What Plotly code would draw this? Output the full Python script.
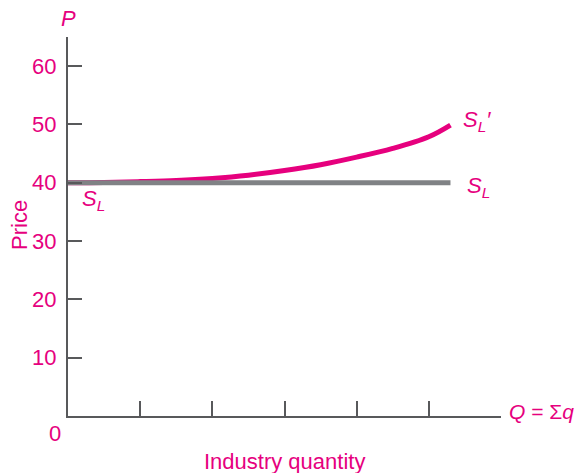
import plotly.graph_objects as go

# Data
q_long = [0, 0.5, 1, 1.5, 2, 2.5, 3, 3.5, 4, 4.5, 5, 5.3]
p_long_prime = [40, 40.05, 40.2, 40.4, 40.75, 41.3, 42.1, 43.1, 44.4, 45.9, 47.9, 49.9]
q_flat = [0, 5.3]
p_flat = [40, 40]
y_ticks = [10, 20, 30, 40, 50, 60]
x_ticks = [1, 2, 3, 4, 5]

MAG = "#E6007E"
GREY = "#808285"
AX = "#58595B"
FONT = "Liberation Sans, Arial, sans-serif"
FS = 22

fig = go.Figure()
fig.add_trace(go.Scatter(x=q_long, y=p_long_prime, mode="lines",
                         line=dict(color=MAG, width=5, shape="spline", smoothing=1),
                         hoverinfo="skip", showlegend=False))
fig.add_trace(go.Scatter(x=q_flat, y=p_flat, mode="lines",
                         line=dict(color=GREY, width=5),
                         hoverinfo="skip", showlegend=False))

fig.update_layout(
    width=582, height=473, autosize=False,
    margin=dict(l=68, r=81, t=37, b=57),
    paper_bgcolor="white", plot_bgcolor="white",
    font=dict(family=FONT, size=FS, color=MAG),
    xaxis=dict(range=[0, 6], tickvals=x_ticks, showticklabels=False,
               ticks="inside", ticklen=15, tickwidth=2, tickcolor=AX,
               showline=True, linecolor=AX, linewidth=2,
               showgrid=False, zeroline=False, fixedrange=True),
    yaxis=dict(range=[0, 65], tickvals=y_ticks,
               ticktext=[str(v) for v in y_ticks],
               ticks="inside", ticklen=14, tickwidth=2, tickcolor=AX,
               tickfont=dict(family=FONT, size=FS, color=MAG),
               ticklabelstandoff=5,
               showline=True, linecolor=AX, linewidth=2,
               showgrid=False, zeroline=False, fixedrange=True),
)

ann = [
    dict(text="<i>P</i>", xref="paper", yref="paper", x=0.0, y=1.05,
         xanchor="center", yanchor="middle"),
    dict(text="<i>Q</i> = Σ<i>q</i>", xref="paper", yref="paper", x=1.014, y=0.0106,
         xanchor="left", yanchor="middle", size=21),
    dict(text="0", xref="paper", yref="paper", x=-0.03, y=-0.047,
         xanchor="center", yanchor="middle"),
    dict(text="Industry quantity", xref="paper", yref="paper", x=0.501, y=-0.121,
         xanchor="center", yanchor="middle"),
    dict(text="Price", xref="paper", yref="paper", x=-0.111, y=0.504,
         xanchor="center", yanchor="middle", textangle=-90),
    dict(text="<i>S<sub>L</sub>′</i>", xref="x", yref="y", x=5.45, y=50.6,
         xanchor="left", yanchor="middle"),
    dict(text="<i>S<sub>L</sub></i>", xref="x", yref="y", x=5.5, y=39.3,
         xanchor="left", yanchor="middle"),
    dict(text="<i>S<sub>L</sub></i>", xref="x", yref="y", x=0.16, y=37.0,
         xanchor="left", yanchor="middle"),
]
for a in ann:
    size = a.pop("size", FS)
    a.update(showarrow=False, font=dict(family=FONT, size=size, color=MAG))
fig.update_layout(annotations=ann)

fig.write_html("out.html",
               config={"displayModeBar": False, "staticPlot": True},
               post_script="document.body.style.margin='0';document.body.style.overflow='hidden';")
